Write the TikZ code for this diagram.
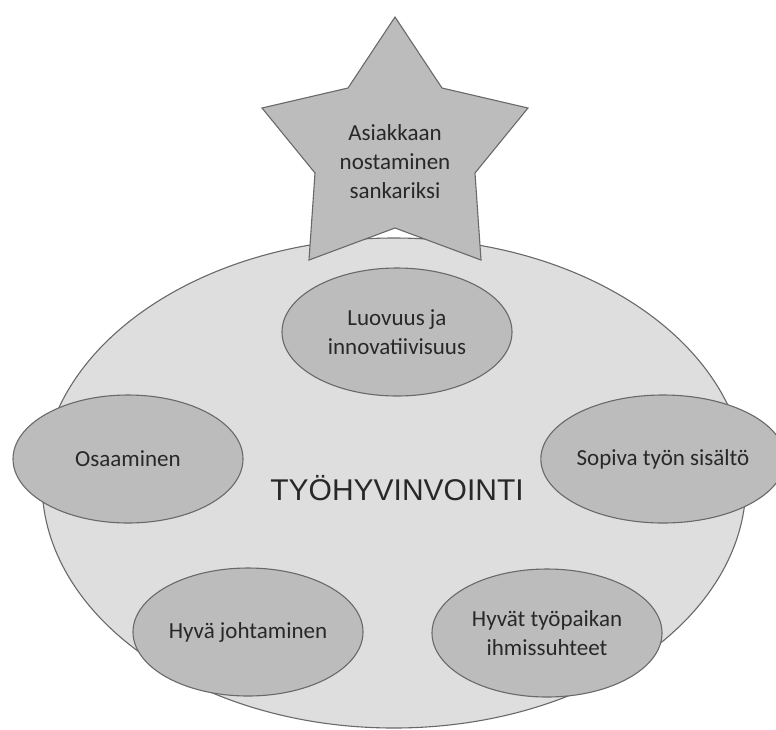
\documentclass[tikz,border=0pt]{standalone}
\usepackage{fontspec}
\setmainfont{Carlito}
\newfontfamily\titlefont{Liberation Sans}
\usetikzlibrary{shapes.geometric}

\definecolor{inkgray}{RGB}{40,40,40}
\definecolor{edgegray}{RGB}{105,105,105}
\definecolor{basefill}{RGB}{222,222,222}
\definecolor{itemfill}{RGB}{188,188,188}
\definecolor{starfill}{RGB}{188,188,188}

\tikzset{
  base/.style={ellipse, draw=edgegray, line width=1.1pt, fill=basefill,
    minimum width=704pt, minimum height=490pt, inner sep=0pt},
  item/.style={ellipse, draw=edgegray, line width=1.1pt, fill=itemfill,
    minimum width=230pt, minimum height=128pt, inner sep=0pt,
    align=center, text=inkgray, font=\fontsize{23}{29}\selectfont},
  goalstar/.style={draw=edgegray, line width=1.1pt, fill=starfill, line join=miter},
  label/.style={align=center, text=inkgray, font=\fontsize{23}{29}\selectfont},
}

\begin{document}
\begin{tikzpicture}[x=1pt, y=-1pt]
  \useasboundingbox (0,0) rectangle (776,729);

  % central well-being ellipse
  \node[base] (core) at (394,483) {};

  % five-pointed star on top
  \draw[goalstar] (395,17) -- (442,88) -- (528,108) -- (475,173)
    -- (481,260) -- (395,228) -- (309,260) -- (315,173)
    -- (262,108) -- (348,88) -- cycle;
  \node[label] (goal) at (395,162) {Asiakkaan\\nostaminen\\sankariksi};

  % title in the middle
  \node[text=inkgray, font=\titlefont\fontsize{30}{34}\selectfont] (title) at (397,488) {TYÖHYVINVOINTI};

  % factors around the centre
  \node[item] (creativity) at (397,332) {Luovuus ja\\innovatiivisuus};
  \node[item] (skills) at (128,459) {Osaaminen};
  \node[item] (content) at (663,459) {Sopiva työn sisältö};
  \node[item] (leadership) at (248,632) {Hyvä johtaminen};
  \node[item] (relations) at (547,633) {Hyvät työpaikan\\ihmissuhteet};
\end{tikzpicture}
\end{document}
